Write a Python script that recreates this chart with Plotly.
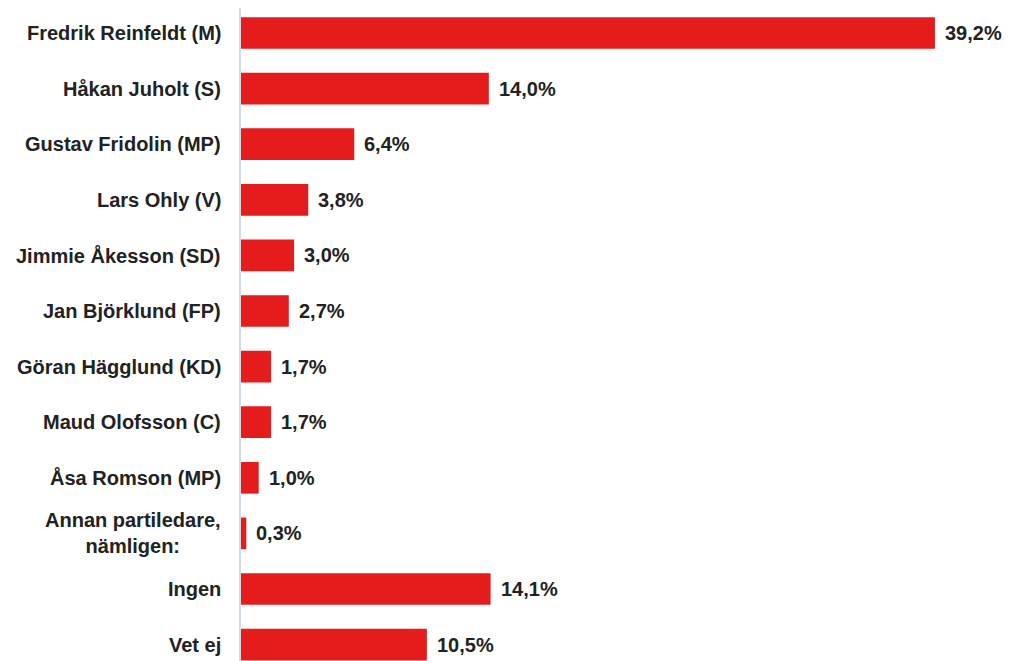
import plotly.graph_objects as go

categories = [
    "Fredrik Reinfeldt (M)",
    "Håkan Juholt (S)",
    "Gustav Fridolin (MP)",
    "Lars Ohly (V)",
    "Jimmie Åkesson (SD)",
    "Jan Björklund (FP)",
    "Göran Hägglund (KD)",
    "Maud Olofsson (C)",
    "Åsa Romson (MP)",
    "Annan partiledare,<br>nämligen:",
    "Ingen",
    "Vet ej",
]
values = [39.2, 14.0, 6.4, 3.8, 3.0, 2.7, 1.7, 1.7, 1.0, 0.3, 14.1, 10.5]
value_labels = [f"{v:.1f}%".replace(".", ",") for v in values]

BAR_COLOR = "#e41c1c"
TEXT_COLOR = "#222222"
FONT = "Liberation Sans, Arial, sans-serif"

fig = go.Figure()
fig.add_trace(go.Bar(
    y=categories,
    x=values,
    orientation="h",
    marker=dict(color=BAR_COLOR, line=dict(width=0)),
    width=0.57,
    hoverinfo="skip",
))

annotations = []
for cat, v, lab in zip(categories, values, value_labels):
    annotations.append(dict(
        x=v, y=cat, xref="x", yref="y", text=f"<b>{lab}</b>",
        showarrow=False, xanchor="left", yanchor="middle", xshift=8,
        font=dict(family=FONT, size=20, color=TEXT_COLOR),
    ))
    annotations.append(dict(
        x=0, y=cat, xref="paper", yref="y", text=f"<b>{cat}</b>",
        showarrow=False, xanchor="right", yanchor="middle", xshift=-18,
        align="center",
        font=dict(family=FONT, size=20, color=TEXT_COLOR),
    ))

# the page adds an 8px body margin, so the figure is sized to fit the window
fig.update_layout(
    width=1011, height=653,
    margin=dict(l=233, r=0, t=0, b=0),
    paper_bgcolor="white", plot_bgcolor="white",
    showlegend=False,
    annotations=annotations,
    xaxis=dict(range=[0, 43.95], visible=False, showgrid=False, zeroline=False),
    yaxis=dict(
        type="category",
        categoryorder="array", categoryarray=categories,
        range=[11.295, -0.45],
        showticklabels=False, ticks="",
        showgrid=False, zeroline=False,
        showline=True, linecolor="#d3dbe2", linewidth=2,
    ),
)

fig.write_html("out.html")
